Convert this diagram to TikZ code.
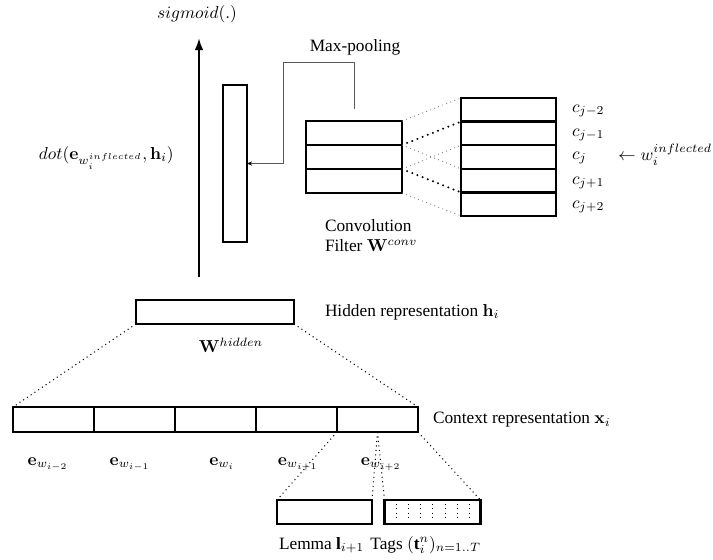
\documentclass[tikz,border=0pt]{standalone}
\usepackage[no-math]{fontspec}
\setmainfont{Liberation Serif}
\usetikzlibrary{arrows.meta,calc}
\tikzset{
  box/.style={draw,line width=1.4pt,inner sep=0pt,outer sep=0pt},
  thindot/.style={dotted,line width=0.5pt,gray},
  thickdot/.style={line width=1.3pt,dash pattern=on 0pt off 3.2pt,line cap=round},
  plaindot/.style={dotted,line width=0.6pt},
  pool/.style={line width=0.5pt,gray!70!black,-{Stealth[length=3pt,width=2.5pt,black]}},
  lbl/.style={inner sep=0pt,outer sep=0pt}
}
\begin{document}
\begin{tikzpicture}[x=0.578pt,y=-0.578pt]
\useasboundingbox (0,0) rectangle (713,559);
% main vertical arrow
\coordinate (abot) at (199,277);
\coordinate (atop) at (199,38);
\draw[line width=1.2pt,-{Latex[length=7pt,width=5pt]}] (abot) -- (atop);
\node[lbl] (sig) at (197,14) {$sigmoid(.)$};
\node[lbl,anchor=base west] (dot) at (39,159) {$dot(\mathbf{e}_{w_i^{inflected}},\mathbf{h}_i)$};
% tall vector
\node[box,minimum width=24*0.578pt,minimum height=157*0.578pt] (tall) at (235,163.5) {};
% filter
\foreach \k/\y in {1/133,2/157,3/181}{
  \node[box,minimum width=96*0.578pt,minimum height=24*0.578pt] (f\k) at (354,\y) {};
}
% column
\foreach \k in {1,...,5}{
  \pgfmathsetmacro\yy{98+23.6*(\k-0.5)}
  \node[box,minimum width=95*0.578pt,minimum height=23.6*0.578pt] (c\k) at (508.5,\yy) {};
}
% max pooling connector
\coordinate (mp) at (354,109);
\node[lbl] (mplabel) at (355,47) {Max-pooling};
\draw[pool] (mp) |- (283,62) |- (tall.east);
% filter to column dotted connectors
\draw[thindot] (f1.north east) -- (c1.north west);
\draw[thickdot] (f1.south east) -- (c2.north west);
\draw[thindot] (f1.south east) -- (c3.south west);
\draw[thindot] (f2.south east) -- (c2.south west);
\draw[thickdot] (f2.south east) -- (c4.south west);
\draw[thindot] (f3.south east) -- (c5.south west);
% column labels
\node[lbl,anchor=west] (l1) at (572,111) {$c_{j-2}$};
\node[lbl,anchor=west] (l2) at (572,135) {$c_{j-1}$};
\node[lbl,anchor=west] (l3) at (572,158) {$c_{j}$};
\node[lbl,anchor=west] (l4) at (572,183) {$c_{j+1}$};
\node[lbl,anchor=west] (l5) at (572,207) {$c_{j+2}$};
\node[lbl,anchor=east] (infl) at (712,155) {$\leftarrow w_i^{inflected}$};
\node[lbl,anchor=north west,align=left] (conv) at (325,219) {Convolution\\Filter $\mathbf{W}^{conv}$};
% hidden
\node[box,minimum width=158*0.578pt,minimum height=24*0.578pt] (hid) at (215,312) {};
\node[lbl,anchor=west] (hidlbl) at (325,312) {Hidden representation $\mathbf{h}_i$};
\node[lbl] (wh) at (231,345) {$\mathbf{W}^{hidden}$};
% context
\foreach \k in {1,...,5}{
  \node[box,minimum width=81*0.578pt,minimum height=25*0.578pt] (x\k) at ({53.5+81*(\k-1)},419.5) {};
}
\node[lbl,anchor=west] (ctx) at (433,420) {Context representation $\mathbf{x}_i$};
\draw[plaindot] (hid.south west) -- (x1.north west);
\draw[plaindot] (hid.south east) -- (x5.north east);
\node[lbl,anchor=base] (e1) at (48,465) {$\mathbf{e}_{w_{i-2}}$};
\node[lbl,anchor=base] (e2) at (130,465) {$\mathbf{e}_{w_{i-1}}$};
\node[lbl,anchor=base] (e3) at (222,465) {$\mathbf{e}_{w_{i}}$};
\node[lbl,anchor=base] (e4) at (298,465) {$\mathbf{e}_{w_{i+1}}$};
\node[lbl,anchor=base] (e5) at (381,465) {$\mathbf{e}_{w_{i+2}}$};
% lemma and tags
\node[box,minimum width=95*0.578pt,minimum height=24*0.578pt] (lemma) at (324.5,512) {};
\node[box,minimum width=96*0.578pt,minimum height=24*0.578pt] (tags) at (432.5,512) {};
\foreach \k in {0,...,6}{
  \draw[dotted,line width=0.5pt] ({396+12.3*\k},504) -- ({396+12.3*\k},521);
}
\draw[plaindot] (x5.south west) -- (lemma.north west);
\draw[plaindot] (x5.south) -- (lemma.north east);
\draw[plaindot] (x5.south) -- (tags.north west);
\draw[plaindot] (x5.south east) -- (tags.north east);
\node[lbl,anchor=base west] (lemlbl) at (279,549) {Lemma \textbf{l}$_{i+1}$};
\node[lbl,anchor=base east] (taglbl) at (481,549) {Tags $(\mbox{\textbf{t}}_i^n)_{n=1..T}$};
\end{tikzpicture}
\end{document}
